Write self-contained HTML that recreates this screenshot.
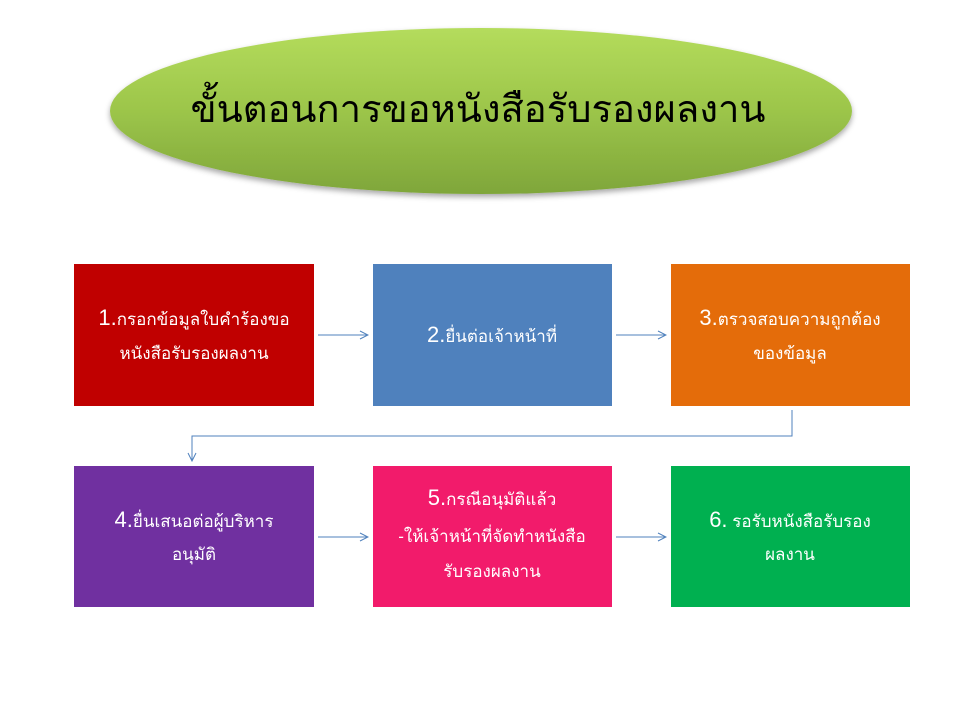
<!DOCTYPE html>
<html><head><meta charset="utf-8"><style>
html,body{margin:0;padding:0;background:#fff;width:960px;height:720px;overflow:hidden}
svg text{font-family:"Liberation Sans","DejaVu Sans",sans-serif}
</style></head><body>
<svg width="960" height="720" viewBox="0 0 960 720" xmlns="http://www.w3.org/2000/svg">
<defs>
<linearGradient id="g" x1="0" y1="0" x2="0" y2="1">
<stop offset="0" stop-color="#b4dc5c"/><stop offset="0.5" stop-color="#9cc54a"/><stop offset="1" stop-color="#7fa63a"/>
</linearGradient>
<filter id="sh" x="-10%" y="-20%" width="120%" height="150%"><feDropShadow dx="0" dy="3" stdDeviation="3" flood-color="#000" flood-opacity="0.35"/></filter>
<marker id="a" markerWidth="10" markerHeight="10" refX="9" refY="5" orient="auto" markerUnits="userSpaceOnUse"><path d="M1,1 L9,5 L1,9" fill="none" stroke="#4f81bd" stroke-width="1"/></marker>
</defs>
<ellipse cx="481" cy="111" rx="371" ry="83" fill="url(#g)" filter="url(#sh)"/>
<text x="478" y="122" font-size="38" text-anchor="middle" textLength="575" lengthAdjust="spacingAndGlyphs" fill="#000" style="font-family:'Liberation Serif','DejaVu Serif',serif">ขั้นตอนการขอหนังสือรับรองผลงาน</text>

<rect x="74" y="264" width="240" height="142" fill="#c00000"/>
<rect x="373" y="264" width="239" height="142" fill="#4f81bd"/>
<rect x="671" y="264" width="239" height="142" fill="#e46c0a"/>
<rect x="74" y="466" width="240" height="141" fill="#7030a0"/>
<rect x="373" y="466" width="239" height="141" fill="#f21b6b"/>
<rect x="671" y="466" width="239" height="141" fill="#00b050"/>

<g fill="#fff" font-size="17" text-anchor="middle">
<text x="194" y="325"><tspan font-size="22">1.</tspan>กรอกข้อมูลใบคำร้องขอ</text>
<text x="194" y="359">หนังสือรับรองผลงาน</text>
<text x="492" y="342"><tspan font-size="22">2.</tspan>ยื่นต่อเจ้าหน้าที่</text>
<text x="790" y="325"><tspan font-size="22">3.</tspan>ตรวจสอบความถูกต้อง</text>
<text x="790" y="359">ของข้อมูล</text>
<text x="194" y="527"><tspan font-size="22">4.</tspan>ยื่นเสนอต่อผู้บริหาร</text>
<text x="194" y="560">อนุมัติ</text>
<text x="492" y="505"><tspan font-size="22">5.</tspan>กรณีอนุมัติแล้ว</text>
<text x="492" y="542">-ให้เจ้าหน้าที่จัดทำหนังสือ</text>
<text x="492" y="577">รับรองผลงาน</text>
<text x="790" y="527"><tspan font-size="22">6.</tspan> รอรับหนังสือรับรอง</text>
<text x="790" y="560">ผลงาน</text>
</g>

<g stroke="#4f81bd" stroke-width="1" fill="none">
<line x1="318" y1="335" x2="368" y2="335" marker-end="url(#a)"/>
<line x1="616" y1="335" x2="666" y2="335" marker-end="url(#a)"/>
<line x1="318" y1="537" x2="368" y2="537" marker-end="url(#a)"/>
<line x1="616" y1="537" x2="666" y2="537" marker-end="url(#a)"/>
<polyline points="792,410 792,436 192,436 192,461" marker-end="url(#a)"/>
</g>
</svg>
</body></html>
